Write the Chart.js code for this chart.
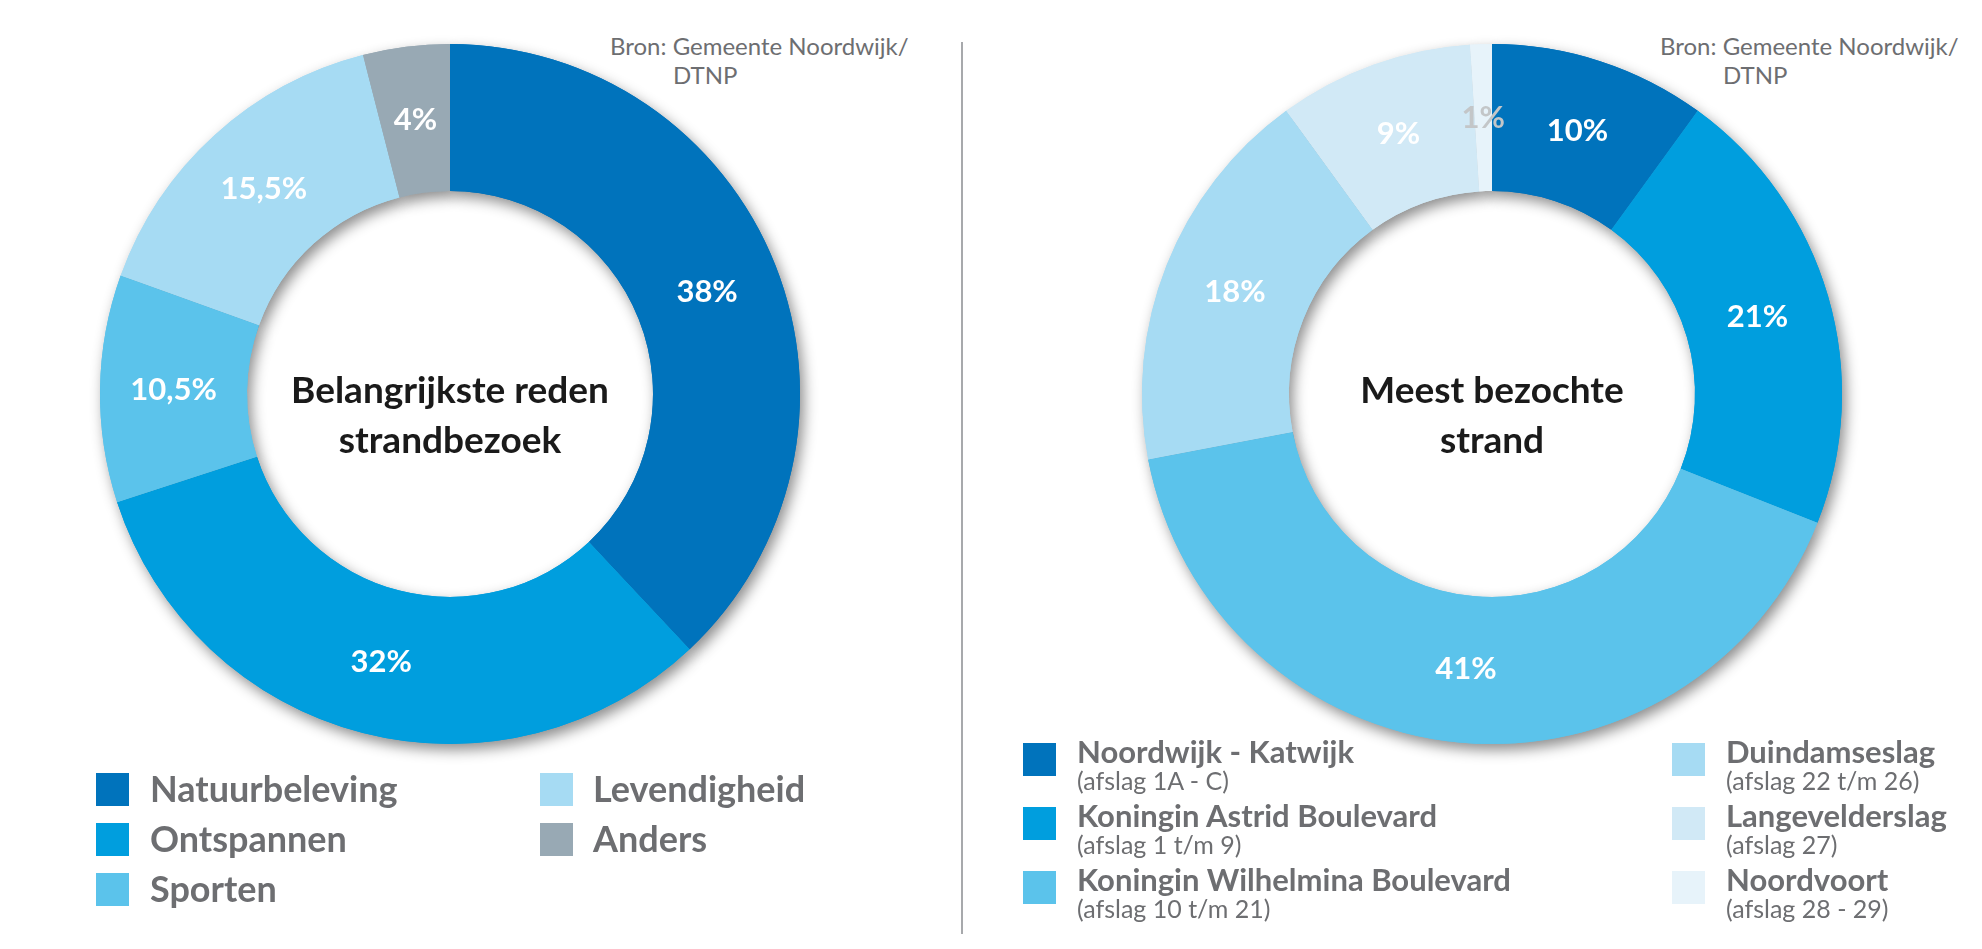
<!DOCTYPE html>
<html>
<head>
<meta charset="utf-8">
<script src="https://cdn.jsdelivr.net/npm/chart.js@4/dist/chart.umd.min.js"></script>
<style>
  html, body { margin:0; padding:0; background:#ffffff; }
  body { width:1982px; height:949px; position:relative; overflow:hidden; font-family: Lato, "Open Sans", sans-serif; }
  .cv { position:absolute; }
  .bron { position:absolute; color:#6d6e71; font-size:24px; line-height:29px; white-space:nowrap; }
  .sep { position:absolute; left:961px; top:42px; width:2px; height:892px; background:#a7a9ac; }
  .box { position:absolute; width:33px; height:33px; }
  .lt { position:absolute; color:#6d6e71; white-space:nowrap; }
  .lt b { display:block; font-weight:700; }
  .lt span { display:block; font-weight:400; }
</style>
</head>
<body>
<div class="sep"></div>
<div class="bron" style="left:610px; top:31px;">Bron: Gemeente Noordwijk/<br><span style="padding-left:63px">DTNP</span></div>
<div class="bron" style="left:1660px; top:31px;">Bron: Gemeente Noordwijk/<br><span style="padding-left:63px">DTNP</span></div>
<canvas id="c1" class="cv" width="780" height="780" style="left:60px; top:4px; width:780px; height:780px;"></canvas>
<canvas id="c2" class="cv" width="780" height="780" style="left:1102px; top:4px; width:780px; height:780px;"></canvas>
<div id="leg1"></div>
<div id="leg2"></div>
<script>
// ---- Data: left chart ----
const leftTitle = ['Belangrijkste reden', 'strandbezoek'];
const leftLabels = ['Natuurbeleving', 'Ontspannen', 'Sporten', 'Levendigheid', 'Anders'];
const leftValues = [38, 32, 10.5, 15.5, 4];
const leftColors = ['#0073bc', '#009ede', '#5bc3eb', '#a6dbf3', '#98a9b4'];
const leftLabelColors = ['#ffffff', '#ffffff', '#ffffff', '#ffffff', '#ffffff'];

// ---- Data: right chart ----
const rightTitle = ['Meest bezochte', 'strand'];
const rightLabels = ['Noordwijk - Katwijk', 'Koningin Astrid Boulevard', 'Koningin Wilhelmina Boulevard', 'Duindamseslag', 'Langevelderslag', 'Noordvoort'];
const rightSublabels = ['(afslag 1A - C)', '(afslag 1 t/m 9)', '(afslag 10 t/m 21)', '(afslag 22 t/m 26)', '(afslag 27)', '(afslag 28 - 29)'];
const rightValues = [10, 21, 41, 18, 9, 1];
const rightColors = ['#0073bc', '#009ede', '#5bc3eb', '#a6dbf3', '#d1e9f6', '#e7f3fa'];
const rightLabelColors = ['#ffffff', '#ffffff', '#ffffff', '#ffffff', '#ffffff', '#c3c6c8'];

function pct(v) { return String(v).replace('.', ',') + '%'; }

const ringShadow = {
  id: 'ringShadow',
  beforeDatasetsDraw(chart) {
    const ctx = chart.ctx;
    const meta = chart.getDatasetMeta(0);
    ctx.save();
    ctx.shadowColor = 'rgba(0,0,0,0.45)';
    ctx.shadowBlur = 14;
    ctx.shadowOffsetX = 4;
    ctx.shadowOffsetY = 6;
    meta.data.forEach(a => a.draw(ctx));
    ctx.restore();
  }
};

const sliceLabels = {
  id: 'sliceLabels',
  afterDatasetsDraw(chart, args, opts) {
    const ctx = chart.ctx;
    const meta = chart.getDatasetMeta(0);
    const vals = chart.data.datasets[0].data;
    ctx.save();
    ctx.textAlign = 'center';
    ctx.textBaseline = 'middle';
    ctx.font = 'bold 31px Lato, sans-serif';
    meta.data.forEach((arc, i) => {
      const p = arc.tooltipPosition();
      ctx.fillStyle = opts.colors[i];
      ctx.fillText(pct(vals[i]), p.x, p.y);
    });
    // centre title
    const a0 = meta.data[0];
    ctx.fillStyle = '#1a1a1a';
    ctx.font = 'bold 37px Lato, sans-serif';
    ctx.textBaseline = 'alphabetic';
    opts.title.forEach((line, k) => {
      ctx.fillText(line, a0.x, a0.y + 9 + k * 50);
    });
    ctx.restore();
  }
};

function makeChart(id, labels, values, colors, labelColors, title) {
  return new Chart(document.getElementById(id), {
    type: 'doughnut',
    data: { labels: labels, datasets: [{ data: values, backgroundColor: colors, borderWidth: 0, hoverOffset: 0 }] },
    options: {
      responsive: false,
      animation: false,
      cutout: '58%',
      layout: { padding: 40 },
      plugins: {
        legend: { display: false },
        tooltip: { enabled: false },
        sliceLabels: { colors: labelColors, title: title }
      }
    },
    plugins: [ringShadow, sliceLabels]
  });
}

makeChart('c1', leftLabels, leftValues, leftColors, leftLabelColors, leftTitle);
makeChart('c2', rightLabels, rightValues, rightColors, rightLabelColors, rightTitle);

// ---- HTML legends built from the arrays ----
function addLegendItem(parent, color, boxX, boxY, textX, html, style) {
  const b = document.createElement('div');
  b.className = 'box';
  b.style.left = boxX + 'px'; b.style.top = boxY + 'px'; b.style.background = color;
  parent.appendChild(b);
  const t = document.createElement('div');
  t.className = 'lt';
  t.style.left = textX + 'px';
  Object.assign(t.style, style);
  t.innerHTML = html;
  parent.appendChild(t);
}
const leg1 = document.getElementById('leg1');
const leftRows = [773, 823, 873];
leftLabels.forEach((lab, i) => {
  const col = i < 3 ? 0 : 1;
  const row = i < 3 ? i : i - 3;
  const by = leftRows[row];
  addLegendItem(leg1, leftColors[i], col ? 540 : 96, by, col ? 593 : 150,
    '<b>' + lab + '</b>', { top: (by - 3) + 'px', fontSize: '36px', lineHeight: '36px' });
});
const leg2 = document.getElementById('leg2');
const rightRows = [743, 807, 871];
rightLabels.forEach((lab, i) => {
  const col = i < 3 ? 0 : 1;
  const row = i % 3;
  const by = rightRows[row];
  addLegendItem(leg2, rightColors[i], col ? 1672 : 1023, by, col ? 1726 : 1077,
    '<b style="font-size:31px;line-height:28px">' + lab + '</b><span style="font-size:25px;line-height:30px">' + rightSublabels[i] + '</span>',
    { top: (by - 6) + 'px' });
});
</script>
</body>
</html>
